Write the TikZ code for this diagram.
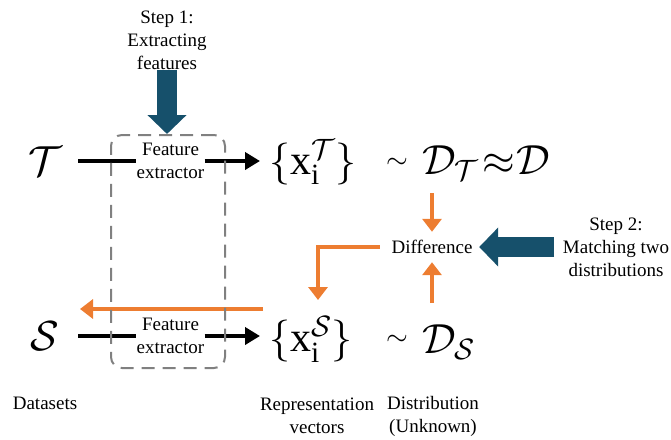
\RequirePackage{fix-cm}
\documentclass[tikz,border=0pt]{standalone}
\usepackage{fontspec}
\setmainfont{Liberation Serif}
\usetikzlibrary{arrows.meta}
\definecolor{stepblue}{RGB}{22,80,107}
\definecolor{diffor}{RGB}{237,125,49}
\definecolor{boxgray}{RGB}{128,128,128}
\begin{document}
\begin{tikzpicture}[x=1pt,y=-1pt,
  lbl/.style={font=\fontsize{19}{23}\selectfont, align=center, inner sep=0pt},
  mth/.style={font=\fontsize{42}{50}\selectfont, inner sep=0pt},
  tld/.style={font=\fontsize{28}{34}\selectfont, inner sep=0pt},
  blk/.style={line width=4pt, -{Triangle[length=15pt,width=17pt]}},
  blkline/.style={line width=4pt},
  org/.style={draw=diffor, line width=4pt, -{Triangle[length=13pt,width=19pt]}},
  bigarrow/.style={draw=stepblue, line width=20pt, -{Triangle[length=19pt,width=38pt]}},
  dashbox/.style={draw=boxgray, line width=2pt, dash pattern=on 13pt off 8pt, rounded corners=11pt}
]
\useasboundingbox (0,0) rectangle (671,439);
% left datasets
\node[mth, minimum width=66pt] (T) at (45,161) {$\mathcal{T}$};
\node[mth, minimum width=66pt] (S) at (45,336) {$\mathcal{S}$};
\node[lbl, minimum width=68pt] (fe1) at (170.5,161) {Feature\\extractor};
\node[lbl, minimum width=68pt] (fe2) at (170.5,336) {Feature\\extractor};
% representation sets
\node[mth, anchor=west] (xT) at (269,162) {$\{\mathrm{x}_{\mathrm{i}}^{\mathcal{T}}\}$};
\node[mth, anchor=west] (xS) at (269,339.5) {$\{\mathrm{x}_{\mathrm{i}}^{\mathcal{S}}\}$};
% distributions
\node[tld] (simT) at (397,163) {$\sim$};
\node[mth, anchor=base west] (DT) at (422,174) {$\mathcal{D}_{\mathcal{T}}$};
\node[mth, anchor=base west] (apx) at (482,174) {$\approx$};
\node[mth, anchor=base west] (D) at (516,174) {$\mathcal{D}$};
\node[tld] (simS) at (397,340) {$\sim$};
\node[mth, anchor=base west] (DS) at (422,353) {$\mathcal{D}_{\mathcal{S}}$};
% labels
\node[lbl] (step1) at (167,40) {Step 1:\\Extracting\\features};
\node[lbl] (step2) at (616,247) {Step 2:\\Matching two\\distributions};
\node[lbl, minimum width=104pt, minimum height=30pt] (diff) at (432,247) {Difference};
\node[lbl] (ds) at (45,403) {Datasets};
\node[lbl] (rv) at (317,416) {Representation\\vectors};
\node[lbl] (dist) at (433,416) {Distribution\\(Unknown)};
% black connectors
\draw[blkline] (T.east) -- (fe1.west);
\draw[blk, shorten >=9pt] (fe1.east) -- (fe1.east -| xT.west);
\draw[blkline] (S.east) -- (fe2.west);
\draw[blk, shorten >=9pt] (fe2.east) -- (fe2.east -| xS.west);
% orange connectors
\coordinate (dtb) at (432,193);
\coordinate (dsb) at (432,303);
\coordinate (lturn) at (318,300);
\coordinate (oS) at (263,309);
\coordinate (oE) at (80,309);
\draw[org] (dtb) -- (diff.north);
\draw[org] (dsb) -- (diff.south);
\draw[org] (diff.west) -| (lturn);
\draw[org] (oS) -- (oE);
% dashed box
\node[dashbox, minimum width=114pt, minimum height=233pt] (box) at (168,251.5) {};
% step arrows
\coordinate (s2) at (554,247);
\draw[bigarrow] (step1.south) -- (step1.south |- box.north);
\draw[bigarrow, shorten >=-5pt] (s2) -- (diff.east);
\end{tikzpicture}
\end{document}
